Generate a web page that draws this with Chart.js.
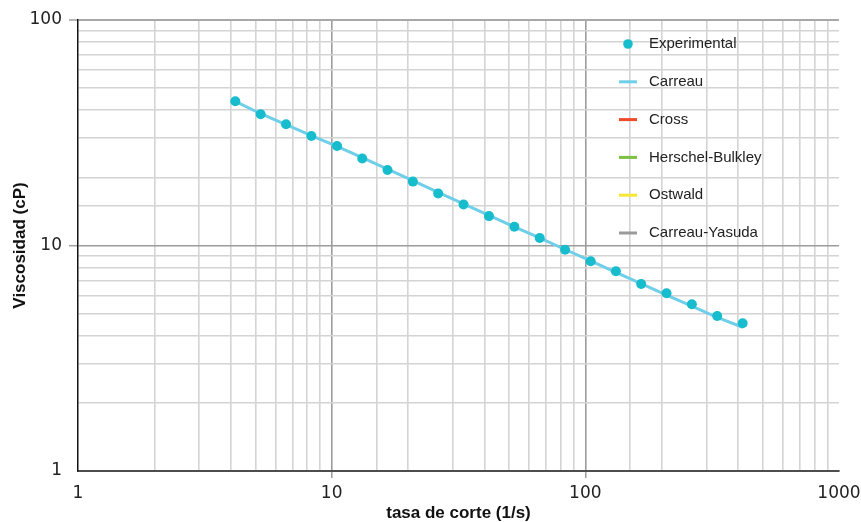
<!DOCTYPE html>
<html>
<head>
<meta charset="utf-8">
<script src="https://cdn.jsdelivr.net/npm/chart.js@4/dist/chart.umd.min.js"></script>
<style>
  html, body { margin: 0; padding: 0; background: #ffffff; }
  #wrap { width: 861px; height: 522px; position: relative; }
</style>
</head>
<body>
<div id="wrap"><canvas id="chart"></canvas></div>
<script>
// Shear rate (1/s) of each measurement
const shearRate = [4.17, 5.25, 6.61, 8.32, 10.5, 13.2, 16.6, 20.9, 26.3, 33.1, 41.7,
                   52.5, 66.1, 83.2, 105, 132, 166, 209, 263, 331, 417];
// Measured viscosity (cP)
const viscosityExp = [43.6, 38.2, 34.5, 30.6, 27.6, 24.3, 21.6, 19.2, 17.0, 15.2, 13.5,
                      12.1, 10.8, 9.58, 8.51, 7.69, 6.75, 6.14, 5.49, 4.87, 4.52];
// Carreau model curve (cP)
const viscosityCarreau = [43.6, 38.4, 34.4, 30.7, 27.5, 24.5, 21.8, 19.4, 17.2, 15.3, 13.6,
                          12.1, 10.8, 9.6, 8.55, 7.6, 6.77, 6.03, 5.38, 4.8, 4.34];
// Other model curves (no data plotted)
const viscosityCross = [];
const viscosityHB = [];
const viscosityOstwald = [];
const viscosityCY = [];

const seriesNames = ['Experimental', 'Carreau', 'Cross', 'Herschel-Bulkley', 'Ostwald', 'Carreau-Yasuda'];
const xTickLabels = [1, 10, 100, 1000];
const yTickLabels = [1, 10, 100];

const toPoints = (xs, ys) => ys.map((v, i) => ({ x: xs[i], y: v }));

// Vertical legend drawn inside the plot area
const insideLegend = {
  id: 'insideLegend',
  afterDraw(chart, args, opts) {
    const ctx = chart.ctx;
    ctx.save();
    ctx.font = '15px "Liberation Sans", Arial, sans-serif';
    ctx.textBaseline = 'middle';
    ctx.textAlign = 'left';
    chart.data.datasets.forEach((ds, i) => {
      const y = opts.top + i * opts.rowGap;
      const mx = opts.markerX;
      if (ds.legendMarker === 'point') {
        ctx.fillStyle = ds.backgroundColor;
        ctx.beginPath();
        ctx.arc(mx, y, 4.8, 0, Math.PI * 2);
        ctx.fill();
      } else {
        ctx.strokeStyle = ds.borderColor;
        ctx.lineWidth = 3;
        ctx.beginPath();
        ctx.moveTo(mx - 9, y);
        ctx.lineTo(mx + 9, y);
        ctx.stroke();
      }
      ctx.fillStyle = '#222222';
      ctx.fillText(ds.label, opts.textX, y);
    });
    ctx.restore();
  }
};

const lineSet = (label, data, color) => ({
  label, data: toPoints(shearRate, data), showLine: true,
  borderColor: color, backgroundColor: color, borderWidth: 3,
  pointRadius: 0, pointHoverRadius: 0, legendMarker: 'line', tension: 0
});

new Chart(document.getElementById('chart'), {
  type: 'scatter',
  data: {
    datasets: [
      {
        label: seriesNames[0],
        data: toPoints(shearRate, viscosityExp),
        backgroundColor: '#17bccd', borderColor: '#17bccd',
        pointRadius: 5, pointBorderWidth: 0, showLine: false,
        legendMarker: 'point'
      },
      lineSet(seriesNames[1], viscosityCarreau, '#6fcfe9'),
      lineSet(seriesNames[2], viscosityCross, '#f04a2c'),
      lineSet(seriesNames[3], viscosityHB, '#7cc142'),
      lineSet(seriesNames[4], viscosityOstwald, '#f6e735'),
      lineSet(seriesNames[5], viscosityCY, '#9a9a9a')
    ]
  },
  options: {
    responsive: true,
    maintainAspectRatio: false,
    animation: false,
    devicePixelRatio: 1,
    layout: { padding: { top: 20, right: 22, left: 0, bottom: 0 } },
    plugins: {
      legend: { display: false },
      tooltip: { enabled: false },
      insideLegend: { markerX: 628, textX: 649, top: 44, rowGap: 37.8 }
    },
    scales: {
      x: {
        type: 'logarithmic',
        min: 1, max: 1000,
        afterFit(scale) {
          scale.height = 51;
          scale.paddingLeft = 0;
          scale.paddingRight = 0;
        },
        border: { color: '#4d4d4d', width: 2 },
        grid: {
          color: c => {
            const v = c.tick ? c.tick.value : null;
            if (v === 1 || v === 1000) return 'rgba(0,0,0,0)';
            if (v === 10 || v === 100) return '#9c9c9c';
            return '#d4d4d4';
          },
          lineWidth: 1.6,
          tickLength: 7,
          tickColor: c => (c.tick && (c.tick.value === 10 || c.tick.value === 100)) ? '#9c9c9c' : 'rgba(0,0,0,0)',
          tickWidth: 1.5
        },
        ticks: {
          autoSkip: false,
          maxRotation: 0,
          padding: 5,
          color: '#222222',
          font: { family: '"DejaVu Sans", sans-serif', size: 17 },
          callback: v => xTickLabels.includes(v) ? String(v) : ''
        },
        title: {
          display: true,
          text: 'tasa de corte (1/s)',
          color: '#111111',
          font: { family: '"Liberation Sans", Arial, sans-serif', size: 17, weight: 'bold', lineHeight: 1 },
          padding: { top: 0, bottom: 0 }
        }
      },
      y: {
        type: 'logarithmic',
        min: 1, max: 100,
        afterFit(scale) {
          scale.width = 78;
          scale.paddingTop = 0;
          scale.paddingBottom = 0;
        },
        border: { color: '#111111', width: 1.5 },
        grid: {
          color: c => {
            const v = c.tick ? c.tick.value : null;
            if (v === 1) return 'rgba(0,0,0,0)';
            if (v === 100) return '#a8a8a8';
            if (v === 10) return '#9c9c9c';
            return '#d4d4d4';
          },
          lineWidth: c => (c.tick && c.tick.value === 100) ? 2 : 1.4,
          tickLength: 9,
          tickColor: c => (c.tick && (c.tick.value === 10 || c.tick.value === 100)) ? '#a0a0a0' : 'rgba(0,0,0,0)',
          tickWidth: 1.5
        },
        ticks: {
          autoSkip: false,
          padding: 7,
          color: '#222222',
          font: { family: '"DejaVu Sans", sans-serif', size: 17 },
          callback: v => yTickLabels.includes(v) ? String(v) : ''
        },
        title: {
          display: true,
          text: 'Viscosidad (cP)',
          color: '#111111',
          font: { family: '"Liberation Sans", Arial, sans-serif', size: 17, weight: 'bold', lineHeight: 1 },
          padding: { top: 11.5, bottom: 0 }
        }
      }
    }
  },
  plugins: [insideLegend]
});
</script>
</body>
</html>
